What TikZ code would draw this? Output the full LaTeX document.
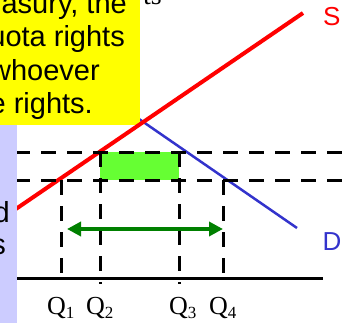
\documentclass[tikz,border=0pt]{standalone}
\usepackage{fontspec}
\setmainfont{Liberation Serif}
\setsansfont{Liberation Sans}
\usetikzlibrary{arrows.meta}
\definecolor{cyellow}{RGB}{255,255,0}
\definecolor{clav}{RGB}{204,204,255}
\definecolor{cred}{RGB}{255,0,0}
\definecolor{cblue}{RGB}{51,51,204}
\definecolor{cgreen}{RGB}{0,128,0}
\definecolor{cfill}{RGB}{102,255,51}
\newcommand{\qsubscr}[1]{\raisebox{-4pt}{\fontsize{17}{17}\selectfont #1}}
\begin{document}
\begin{tikzpicture}[x=1pt,y=-1pt,
  dashln/.style={line width=3pt, dash pattern=on 15pt off 11pt},
  boxtxt/.style={font=\fontsize{29}{34}\selectfont\sffamily, inner sep=0pt, anchor=base east},
  qlab/.style={font=\fontsize{26}{30}\selectfont\rmfamily, inner sep=0pt, anchor=base west},
  curvelab/.style={font=\fontsize{26}{30}\selectfont\sffamily, inner sep=0pt, anchor=base west},
  supply/.style={line width=4pt, draw=cred},
  demand/.style={line width=2.5pt, draw=cblue},
  spread/.style={line width=4pt, draw=cgreen, {Triangle[length=14pt,width=14pt]}-{Triangle[length=14pt,width=14pt]}},
  axisln/.style={line width=3pt, draw=black}]
\useasboundingbox (0,0) rectangle (346,322);
% title fragment behind the box
\node[font=\fontsize{28}{33}\selectfont\rmfamily, inner sep=0pt, anchor=base east] (tts) at (162,4) {ts};
% demand curve (partly behind yellow box)
\coordinate (d0) at (110,99);
\coordinate (d1) at (297,228);
\draw[demand] (d0) -- (d1);
% yellow note box
\fill[cyellow] (-5,-5) rectangle (140,125);
\node[boxtxt] (l1) at (127,13) {asury, the};
\node[boxtxt] (l2) at (125,46) {uota rights};
\node[boxtxt] (l3) at (100,80) {whoever};
\node[boxtxt] (l4) at (93,113) {e rights.};
% supply curve
\coordinate (s0) at (10,213);
\coordinate (s1) at (303,13);
\draw[supply] (s0) -- (s1);
% rent rectangle
\fill[cfill] (100,152) rectangle (179,180);
% price lines
\draw[dashln] (15,152) -- (346,152);
\draw[dashln] (15,180) -- (346,180);
% quantity lines
\draw[dashln] (61,180) -- (61,273);
\draw[dashln] (100,152) -- (100,284);
\draw[dashln] (179,152) -- (179,284);
\draw[dashln] (223,180) -- (223,273);
% arrow
\coordinate (a0) at (67,229);
\coordinate (a1) at (223,229);
\draw[spread] (a0) -- (a1);
% axis
\coordinate (x0) at (10,278.5);
\coordinate (x1) at (323,278.5);
\draw[axisln] (x0) -- (x1);
% lavender box
\fill[clav] (-5,125) rectangle (17,330);
\node[boxtxt] (ld) at (10,222) {d};
\node[boxtxt] (ls) at (6,254) {s};
% labels
\node[curvelab, text=cred] (labS) at (323,25) {S};
\node[curvelab, text=cblue] (labD) at (322.5,250) {D};
\node[qlab] (q1) at (47,314) {Q\qsubscr{1}};
\node[qlab] (q2) at (86,314) {Q\qsubscr{2}};
\node[qlab] (q3) at (169,314) {Q\qsubscr{3}};
\node[qlab] (q4) at (209,314) {Q\qsubscr{4}};
\end{tikzpicture}
\end{document}
